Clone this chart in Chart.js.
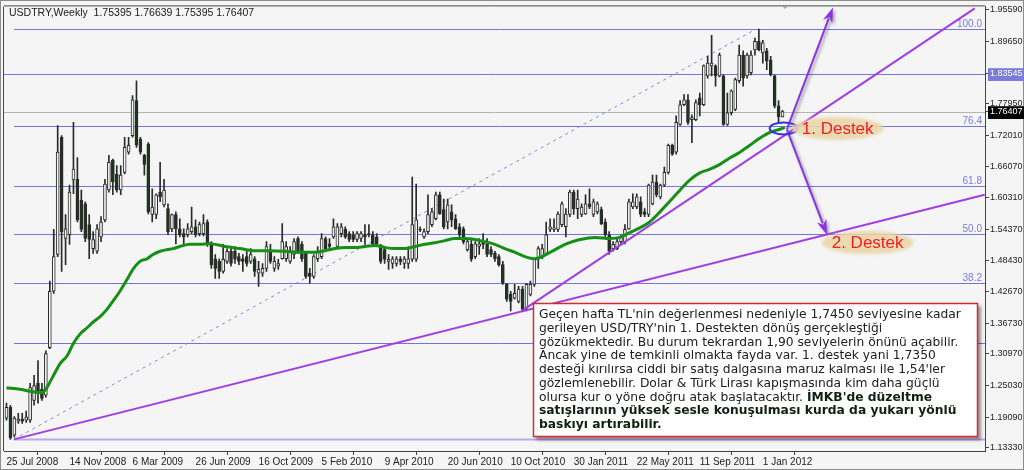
<!DOCTYPE html>
<html>
<head>
<meta charset="utf-8">
<title>USDTRY Weekly</title>
<script src="https://cdn.jsdelivr.net/npm/chart.js@4.4.1/dist/chart.umd.min.js"></script>
<style>
  html, body { margin: 0; padding: 0; background: #f5f5f5; }
  #wrap { width: 1024px; height: 470px; }
</style>
</head>
<body>
<div id="wrap"><canvas id="chart" width="1024" height="470"></canvas></div>
<script>
// weekly candles (bar index 0 = 25 Jul 2008)
const opens = [
  1.189, 1.209, 1.157, 1.183, 1.187, 1.185, 1.185, 1.222, 1.254, 1.243,
  1.232, 1.321, 1.427, 1.496, 1.716, 1.526, 1.533, 1.636, 1.637, 1.598,
  1.591, 1.552, 1.507, 1.502, 1.529, 1.561, 1.617, 1.673, 1.647, 1.617,
  1.650, 1.688, 1.719, 1.785, 1.712, 1.682, 1.703, 1.571, 1.571, 1.613,
  1.589, 1.582, 1.544, 1.571, 1.544, 1.535, 1.533, 1.539, 1.548, 1.535,
  1.535, 1.557, 1.515, 1.488, 1.483, 1.464, 1.483, 1.502, 1.502, 1.492,
  1.488, 1.492, 1.483, 1.488, 1.461, 1.461, 1.470, 1.505, 1.470, 1.474,
  1.488, 1.488, 1.483, 1.496, 1.526, 1.515, 1.498, 1.461, 1.455, 1.488,
  1.492, 1.526, 1.516, 1.529, 1.511, 1.535, 1.543, 1.535, 1.533, 1.524,
  1.526, 1.533, 1.535, 1.533, 1.529, 1.511, 1.505, 1.483, 1.479, 1.479,
  1.487, 1.479, 1.479, 1.487, 1.487, 1.543, 1.529, 1.539, 1.552, 1.563,
  1.608, 1.580, 1.557, 1.576, 1.563, 1.548, 1.544, 1.505, 1.515, 1.492,
  1.511, 1.520, 1.515, 1.505, 1.498, 1.492, 1.477, 1.440, 1.421, 1.414,
  1.408, 1.431, 1.395, 1.421, 1.440, 1.488, 1.492, 1.498, 1.543, 1.543,
  1.543, 1.552, 1.548, 1.571, 1.613, 1.582, 1.571, 1.572, 1.591, 1.571,
  1.576, 1.580, 1.557, 1.533, 1.507, 1.507, 1.520, 1.520, 1.544, 1.585,
  1.585, 1.595, 1.576, 1.571, 1.591, 1.632, 1.604, 1.626, 1.650, 1.701,
  1.688, 1.740, 1.777, 1.786, 1.749, 1.749, 1.790, 1.777, 1.831, 1.850,
  1.850, 1.831, 1.831, 1.740, 1.762, 1.768, 1.822, 1.870, 1.831, 1.837,
  1.880, 1.896, 1.874, 1.878, 1.861, 1.831, 1.775, 1.75395
];
const highs = [
  1.217, 1.213, 1.192, 1.198, 1.198, 1.202, 1.254, 1.269, 1.297, 1.254,
  1.315, 1.446, 1.543, 1.738, 1.719, 1.571, 1.626, 1.744, 1.678, 1.617,
  1.595, 1.571, 1.539, 1.552, 1.567, 1.637, 1.682, 1.675, 1.663, 1.663,
  1.716, 1.716, 1.794, 1.822, 1.716, 1.684, 1.706, 1.619, 1.610, 1.669,
  1.637, 1.591, 1.572, 1.576, 1.563, 1.544, 1.554, 1.585, 1.561, 1.557,
  1.571, 1.561, 1.520, 1.496, 1.488, 1.515, 1.507, 1.511, 1.511, 1.498,
  1.496, 1.502, 1.507, 1.492, 1.483, 1.479, 1.520, 1.515, 1.492, 1.487,
  1.554, 1.520, 1.511, 1.526, 1.529, 1.520, 1.502, 1.470, 1.496, 1.511,
  1.535, 1.529, 1.526, 1.563, 1.554, 1.554, 1.548, 1.539, 1.539, 1.539,
  1.539, 1.552, 1.552, 1.539, 1.535, 1.515, 1.511, 1.496, 1.492, 1.492,
  1.492, 1.492, 1.511, 1.641, 1.628, 1.548, 1.544, 1.608, 1.582, 1.613,
  1.613, 1.600, 1.600, 1.589, 1.571, 1.554, 1.548, 1.524, 1.524, 1.520,
  1.526, 1.535, 1.526, 1.511, 1.502, 1.496, 1.483, 1.442, 1.427, 1.440,
  1.436, 1.436, 1.442, 1.446, 1.488, 1.511, 1.515, 1.557, 1.563, 1.563,
  1.576, 1.595, 1.582, 1.617, 1.617, 1.617, 1.591, 1.608, 1.619, 1.600,
  1.595, 1.585, 1.563, 1.539, 1.520, 1.526, 1.533, 1.552, 1.600, 1.610,
  1.610, 1.604, 1.582, 1.628, 1.645, 1.645, 1.628, 1.660, 1.703, 1.703,
  1.756, 1.785, 1.796, 1.796, 1.758, 1.786, 1.799, 1.852, 1.868, 1.907,
  1.852, 1.874, 1.833, 1.799, 1.805, 1.827, 1.889, 1.878, 1.874, 1.878,
  1.902, 1.919, 1.898, 1.883, 1.868, 1.833, 1.785, 1.76639
];
const lows = [
  1.185, 1.149, 1.153, 1.179, 1.179, 1.181, 1.181, 1.213, 1.217, 1.222,
  1.228, 1.319, 1.423, 1.492, 1.464, 1.477, 1.515, 1.610, 1.557, 1.539,
  1.520, 1.488, 1.498, 1.498, 1.520, 1.557, 1.613, 1.608, 1.613, 1.608,
  1.647, 1.684, 1.716, 1.697, 1.684, 1.645, 1.572, 1.557, 1.563, 1.595,
  1.585, 1.533, 1.539, 1.516, 1.529, 1.515, 1.529, 1.535, 1.529, 1.531,
  1.531, 1.511, 1.470, 1.451, 1.451, 1.461, 1.479, 1.474, 1.479, 1.477,
  1.464, 1.474, 1.479, 1.455, 1.436, 1.455, 1.464, 1.479, 1.464, 1.468,
  1.487, 1.483, 1.479, 1.488, 1.498, 1.483, 1.451, 1.442, 1.451, 1.483,
  1.488, 1.502, 1.505, 1.526, 1.507, 1.529, 1.526, 1.520, 1.520, 1.520,
  1.520, 1.515, 1.529, 1.511, 1.511, 1.479, 1.479, 1.468, 1.470, 1.474,
  1.477, 1.470, 1.470, 1.483, 1.483, 1.539, 1.526, 1.535, 1.548, 1.561,
  1.571, 1.544, 1.544, 1.548, 1.543, 1.529, 1.516, 1.502, 1.483, 1.488,
  1.496, 1.507, 1.492, 1.492, 1.483, 1.474, 1.440, 1.408, 1.390, 1.412,
  1.405, 1.390, 1.390, 1.418, 1.436, 1.470, 1.488, 1.496, 1.539, 1.539,
  1.539, 1.548, 1.529, 1.567, 1.571, 1.563, 1.567, 1.571, 1.582, 1.567,
  1.572, 1.552, 1.529, 1.496, 1.502, 1.505, 1.516, 1.516, 1.543, 1.582,
  1.582, 1.567, 1.567, 1.567, 1.589, 1.604, 1.600, 1.623, 1.647, 1.682,
  1.684, 1.738, 1.775, 1.740, 1.706, 1.747, 1.756, 1.775, 1.827, 1.831,
  1.812, 1.829, 1.738, 1.738, 1.758, 1.766, 1.818, 1.812, 1.827, 1.833,
  1.870, 1.878, 1.855, 1.843, 1.831, 1.771, 1.744, 1.75395
];
const closes = [
  1.209, 1.152, 1.189, 1.187, 1.183, 1.191, 1.246, 1.250, 1.237, 1.226,
  1.310, 1.427, 1.492, 1.688, 1.539, 1.544, 1.613, 1.656, 1.561, 1.543,
  1.526, 1.524, 1.524, 1.544, 1.557, 1.628, 1.669, 1.632, 1.617, 1.645,
  1.697, 1.701, 1.786, 1.701, 1.688, 1.665, 1.576, 1.585, 1.608, 1.604,
  1.617, 1.539, 1.571, 1.544, 1.533, 1.529, 1.544, 1.548, 1.533, 1.552,
  1.554, 1.515, 1.477, 1.470, 1.464, 1.487, 1.502, 1.479, 1.487, 1.483,
  1.483, 1.479, 1.496, 1.464, 1.468, 1.470, 1.511, 1.483, 1.483, 1.479,
  1.520, 1.511, 1.502, 1.520, 1.502, 1.488, 1.455, 1.455, 1.492, 1.502,
  1.526, 1.507, 1.511, 1.548, 1.548, 1.548, 1.529, 1.524, 1.524, 1.535,
  1.535, 1.529, 1.533, 1.516, 1.516, 1.483, 1.487, 1.487, 1.488, 1.488,
  1.483, 1.488, 1.488, 1.552, 1.561, 1.542, 1.539, 1.571, 1.576, 1.608,
  1.572, 1.548, 1.589, 1.561, 1.544, 1.533, 1.520, 1.520, 1.487, 1.516,
  1.516, 1.515, 1.496, 1.496, 1.488, 1.477, 1.442, 1.412, 1.408, 1.423,
  1.431, 1.393, 1.440, 1.440, 1.487, 1.507, 1.507, 1.533, 1.548, 1.546,
  1.572, 1.591, 1.572, 1.613, 1.582, 1.600, 1.585, 1.591, 1.585, 1.595,
  1.591, 1.554, 1.533, 1.502, 1.515, 1.520, 1.529, 1.543, 1.595, 1.595,
  1.604, 1.571, 1.571, 1.626, 1.632, 1.608, 1.626, 1.650, 1.701, 1.684,
  1.744, 1.777, 1.786, 1.744, 1.753, 1.781, 1.777, 1.850, 1.855, 1.855,
  1.831, 1.870, 1.740, 1.762, 1.803, 1.824, 1.870, 1.827, 1.870, 1.870,
  1.896, 1.880, 1.893, 1.859, 1.833, 1.775, 1.754, 1.76407
];

// green moving average, sampled along the line
const maIdx = [
  0, 3.4, 8.5, 9.8, 11.0, 12.3, 13.6, 15.4, 16.9, 18.7,
  20.4, 22.0, 23.7, 25.5, 27.0, 28.8, 30.6, 32.1, 33.9, 35.7,
  37.2, 39.0, 40.7, 42.3, 44.0, 46.6, 49.1, 51.6, 55.5, 59.3,
  63.1, 66.9, 70.7, 74.5, 78.3, 80.8, 83.4, 85.9, 88.4, 91.0,
  93.5, 96.1, 98.6, 101.1, 103.7, 106.2, 108.8, 111.3, 113.8, 116.4,
  118.9, 121.4, 124.0, 126.5, 129.1, 131.6, 134.1, 138.0, 141.8, 145.6,
  149.4, 153.2, 155.7, 158.2, 160.8, 163.3, 165.9, 168.4, 171.0, 173.5,
  176.0, 178.6, 181.1, 183.6, 186.2, 188.7, 191.2, 193.8, 196.3, 197.6
];
const maVals = [
  1.246, 1.243, 1.237, 1.241, 1.256, 1.274, 1.291, 1.306, 1.328, 1.347,
  1.358, 1.369, 1.379, 1.393, 1.408, 1.427, 1.449, 1.468, 1.483, 1.488,
  1.496, 1.502, 1.505, 1.507, 1.511, 1.515, 1.515, 1.516, 1.511, 1.507,
  1.503, 1.503, 1.502, 1.500, 1.500, 1.503, 1.507, 1.509, 1.509, 1.511,
  1.513, 1.509, 1.507, 1.507, 1.511, 1.515, 1.518, 1.522, 1.526, 1.526,
  1.524, 1.520, 1.515, 1.507, 1.500, 1.492, 1.488, 1.500, 1.515, 1.524,
  1.528, 1.526, 1.528, 1.537, 1.546, 1.557, 1.576, 1.596, 1.617, 1.636,
  1.649, 1.656, 1.665, 1.677, 1.688, 1.701, 1.714, 1.725, 1.731, 1.734
];

const xTickIdx = [0, 16, 32, 48, 64, 80, 96, 112, 128, 144, 160, 176, 192];
const xTickLabels = ['25 Jul 2008', '14 Nov 2008', '6 Mar 2009', '26 Jun 2009', '16 Oct 2009',
  '5 Feb 2010', '9 Apr 2010', '20 Jun 2010', '10 Oct 2010', '30 Jan 2011', '22 May 2011',
  '11 Sep 2011', '1 Jan 2012'];
const yTickVals = [1.95590, 1.89650, 1.83545, 1.77950, 1.76407, 1.72010, 1.66070, 1.60310,
  1.54370, 1.48430, 1.42670, 1.36730, 1.30970, 1.25030, 1.19090, 1.13330];

// drawn objects, in (bar index, price)
const fibStart = [1.9, 1.149];
const fibEnd = [190.3, 1.919];
const fibLevels = [0, 23.6, 38.2, 50.0, 61.8, 76.4, 100.0];
const resistance = 1.83545;
const lastPrice = 1.76407;
const trendLow = [[1.9, 1.149], [248.3, 1.608]];
const trendHigh = [[131.1, 1.3917], [245.8, 1.9578]];
const arrowFrom = [198.1, 1.7306];
const arrowUpTo = [209.8, 1.9596];
const arrowDownTo = [208.3, 1.5332];
const ringAt = [197.3, 1.7325];
const support1 = [211.0, 1.7325];
const support2 = [218.6, 1.5183];

const noteLines = [
  [["Geçen hafta TL'nin değerlenmesi nedeniyle 1,7450 seviyesine kadar", false]],
  [["gerileyen USD/TRY'nin 1. Destekten dönüş gerçekleştiği", false]],
  [["gözükmektedir. Bu durum tekrardan 1,90 seviyelerin önünü açabilir.", false]],
  [["Ancak yine de temkinli olmakta fayda var. 1. destek yani 1,7350", false]],
  [["desteği kırılırsa ciddi bir satış dalgasına maruz kalması ile 1,54'ler", false]],
  [["gözlemlenebilir. Dolar & Türk Lirası kapışmasında kim daha güçlü", false]],
  [["olursa kur o yöne doğru atak başlatacaktır. ", false], ["İMKB'de düzeltme", true]],
  [["satışlarının yüksek sesle konuşulması kurda da yukarı yönlü", true]],
  [["baskıyı artırabilir.", true]]
];

const bars = opens.map((o, i) => i);
const bodyColors = bars.map(i => closes[i] >= opens[i] ? '#f4f4f4' : '#1f351f');

function drawArrow(ctx, x1, y1, x2, y2) {
  const ang = Math.atan2(y2 - y1, x2 - x1);
  const len = 15, half = 5;
  ctx.beginPath();
  ctx.moveTo(x1, y1);
  ctx.lineTo(x2 - Math.cos(ang) * len * 0.8, y2 - Math.sin(ang) * len * 0.8);
  ctx.stroke();
  ctx.beginPath();
  ctx.moveTo(x2, y2);
  ctx.lineTo(x2 - Math.cos(ang) * len + Math.sin(ang) * half, y2 - Math.sin(ang) * len - Math.cos(ang) * half);
  ctx.lineTo(x2 - Math.cos(ang) * len * 0.7, y2 - Math.sin(ang) * len * 0.7);
  ctx.lineTo(x2 - Math.cos(ang) * len - Math.sin(ang) * half, y2 - Math.sin(ang) * len + Math.cos(ang) * half);
  ctx.closePath();
  ctx.fill();
}

function destekLabel(ctx, x, y, text) {
  ctx.save();
  ctx.filter = 'blur(1.5px)';
  ctx.fillStyle = 'rgba(234, 214, 170, 0.9)';
  ctx.beginPath();
  ctx.ellipse(x, y, 46, 11.5, 0, 0, Math.PI * 2);
  ctx.fill();
  ctx.restore();
  ctx.fillStyle = '#f02020';
  ctx.font = '17px "Liberation Sans", Arial, sans-serif';
  ctx.textAlign = 'center';
  ctx.textBaseline = 'middle';
  ctx.fillText(text, x, y + 1);
}

const overlay = {
  id: 'overlay',
  beforeDraw(chart) {
    const ctx = chart.ctx;
    ctx.save();
    ctx.fillStyle = '#f5f5f5';
    ctx.fillRect(0, 0, chart.width, chart.height);
    ctx.strokeStyle = '#8c8c8c';
    ctx.lineWidth = 1;
    ctx.strokeRect(0.5, 0.5, chart.width - 1, chart.height - 1);
    ctx.strokeStyle = '#4a4a4a';
    ctx.beginPath();
    ctx.moveTo(chart.chartArea.left - 0.5, chart.chartArea.top);
    ctx.lineTo(chart.chartArea.left - 0.5, chart.chartArea.bottom);
    ctx.moveTo(chart.chartArea.left, chart.chartArea.top - 0.5);
    ctx.lineTo(chart.chartArea.right, chart.chartArea.top - 0.5);
    ctx.stroke();
    ctx.restore();
  },
  beforeDatasetsDraw(chart) {
    const ctx = chart.ctx, a = chart.chartArea;
    const X = v => chart.scales.x.getPixelForValue(v);
    const Y = v => chart.scales.y.getPixelForValue(v);
    ctx.save();
    ctx.beginPath();
    ctx.rect(a.left, a.top, a.right - a.left, a.bottom - a.top);
    ctx.clip();

    ctx.lineWidth = 1;
    ctx.strokeStyle = '#b4b4b4';
    let y = Math.round(Y(lastPrice)) + 0.5;
    ctx.beginPath(); ctx.moveTo(a.left, y); ctx.lineTo(a.right, y); ctx.stroke();

    ctx.strokeStyle = '#7474dc';
    y = Math.round(Y(resistance)) + 0.5;
    ctx.beginPath(); ctx.moveTo(a.left, y); ctx.lineTo(a.right, y); ctx.stroke();

    fibLevels.forEach(l => {
      const p = fibStart[1] + (fibEnd[1] - fibStart[1]) * l / 100;
      const yy = Math.round(Y(p)) + 0.5;
      ctx.strokeStyle = l === 0 ? '#bca8ee' : '#7474dc';
      ctx.lineWidth = l === 0 ? 2 : 1;
      ctx.beginPath(); ctx.moveTo(X(fibStart[0]), yy); ctx.lineTo(a.right, yy); ctx.stroke();
    });

    ctx.setLineDash([3, 4]);
    ctx.strokeStyle = '#8484e0';
    ctx.lineWidth = 1;
    ctx.beginPath();
    ctx.moveTo(X(fibStart[0]), Y(fibStart[1]));
    ctx.lineTo(X(fibEnd[0]), Y(fibEnd[1]));
    ctx.stroke();
    ctx.setLineDash([]);
    ctx.restore();
  },
  afterDatasetsDraw(chart) {
    const ctx = chart.ctx, a = chart.chartArea;
    const X = v => chart.scales.x.getPixelForValue(v);
    const Y = v => chart.scales.y.getPixelForValue(v);

    ctx.save();
    ctx.beginPath();
    ctx.rect(a.left, a.top, a.right - a.left, a.bottom - a.top);
    ctx.clip();

    // fibo labels
    ctx.font = '10px "Liberation Sans", Arial, sans-serif';
    ctx.fillStyle = '#7a7ae0';
    ctx.textAlign = 'right';
    ctx.textBaseline = 'alphabetic';
    fibLevels.filter(l => l > 30).forEach(l => {
      const p = fibStart[1] + (fibEnd[1] - fibStart[1]) * l / 100;
      ctx.fillText(l.toFixed(1), a.right - 3, Y(p) - 2);
    });

    // trend lines
    ctx.strokeStyle = '#a03ee2';
    ctx.lineWidth = 2;
    [trendLow, trendHigh].forEach(t => {
      ctx.beginPath();
      ctx.moveTo(X(t[0][0]), Y(t[0][1]));
      ctx.lineTo(X(t[1][0]), Y(t[1][1]));
      ctx.stroke();
    });

    // arrows
    ctx.save();
    ctx.shadowColor = 'rgba(60, 60, 60, 0.45)';
    ctx.shadowBlur = 3;
    ctx.shadowOffsetX = 2;
    ctx.shadowOffsetY = 2;
    ctx.strokeStyle = '#8d33e6';
    ctx.fillStyle = '#8d33e6';
    ctx.lineWidth = 2;
    drawArrow(ctx, X(arrowFrom[0]), Y(arrowFrom[1]), X(arrowUpTo[0]), Y(arrowUpTo[1]));
    drawArrow(ctx, X(arrowFrom[0]), Y(arrowFrom[1]), X(arrowDownTo[0]), Y(arrowDownTo[1]));
    ctx.restore();

    // ring round the touch point
    ctx.strokeStyle = '#3434e6';
    ctx.lineWidth = 2;
    ctx.beginPath();
    ctx.ellipse(X(ringAt[0]), Y(ringAt[1]), 14, 6, 0, 0, Math.PI * 2);
    ctx.stroke();

    destekLabel(ctx, X(support1[0]), Y(support1[1]), '1. Destek');
    destekLabel(ctx, X(support2[0]), Y(support2[1]), '2. Destek');

    // shift marker
    ctx.fillStyle = '#a8a8a8';
    ctx.beginPath();
    ctx.moveTo(779, 3); ctx.lineTo(791, 3); ctx.lineTo(785, 9); ctx.closePath();
    ctx.fill();
    ctx.restore();

    // comment box
    ctx.save();
    ctx.shadowColor = 'rgba(0, 0, 0, 0.4)';
    ctx.shadowBlur = 3;
    ctx.shadowOffsetX = 3;
    ctx.shadowOffsetY = 3;
    ctx.fillStyle = '#ffffff';
    ctx.fillRect(533, 303, 445, 134);
    ctx.restore();
    ctx.save();
    ctx.strokeStyle = '#d42a2a';
    ctx.lineWidth = 1.5;
    ctx.strokeRect(533.5, 303.5, 444, 133);
    ctx.textAlign = 'left';
    ctx.textBaseline = 'middle';
    noteLines.forEach((line, k) => {
      let x = 539;
      const y = 315 + k * 13.75;
      line.forEach(([txt, bold]) => {
        ctx.font = (bold ? 'bold ' : '') + '12.3px "DejaVu Sans", Verdana, sans-serif';
        ctx.fillStyle = bold ? '#102010' : '#202020';
        ctx.fillText(txt, x, y);
        x += ctx.measureText(txt).width;
      });
    });

    // header
    ctx.font = '10.5px "Liberation Sans", Arial, sans-serif';
    ctx.fillStyle = '#202020';
    ctx.fillText('USDTRY,Weekly  1.75395 1.76639 1.75395 1.76407', 9, 13);
    ctx.restore();
  }
};

const isTag = v => v === resistance || v === lastPrice;

new Chart(document.getElementById('chart'), {
  type: 'bar',
  data: {
    datasets: [
      {
        type: 'line',
        data: maIdx.map((x, k) => ({ x: x, y: maVals[k] })),
        borderColor: '#159015',
        borderWidth: 3,
        pointRadius: 0,
        cubicInterpolationMode: 'monotone',
        order: 1
      },
      {
        data: bars.map(i => ({ x: i, y: [lows[i], highs[i]] })),
        backgroundColor: '#2a2a2a',
        borderWidth: 0,
        barThickness: 1,
        grouped: false,
        order: 3
      },
      {
        data: bars.map(i => ({ x: i, y: [opens[i], closes[i]] })),
        backgroundColor: bodyColors,
        borderColor: '#2a2a2a',
        borderWidth: 1,
        borderSkipped: false,
        barThickness: 3,
        grouped: false,
        order: 2
      }
    ]
  },
  options: {
    responsive: false,
    animation: false,
    events: [],
    layout: { padding: { left: 4, top: 3, right: 0, bottom: 0 } },
    plugins: { legend: { display: false }, tooltip: { enabled: false } },
    scales: {
      x: {
        type: 'linear',
        offset: false,
        min: -0.63,
        max: 248.4,
        afterBuildTicks: s => { s.ticks = xTickIdx.map(v => ({ value: v })); },
        afterFit: s => { s.height = 19; },
        grid: { drawOnChartArea: false, tickLength: 4, color: '#444' },
        border: { color: '#444' },
        ticks: {
          autoSkip: false,
          maxRotation: 0,
          align: 'start',
          padding: 1,
          color: '#222',
          font: { family: '"Liberation Sans", Arial, sans-serif', size: 10 },
          callback: (v, i) => xTickLabels[i]
        }
      },
      y: {
        position: 'right',
        min: 1.1272,
        max: 1.9615,
        afterBuildTicks: s => { s.ticks = yTickVals.map(v => ({ value: v })); },
        afterFit: s => { s.width = 39; },
        grid: { drawOnChartArea: false, tickLength: 4, color: '#444' },
        border: { color: '#444' },
        ticks: {
          autoSkip: false,
          padding: 1,
          font: { family: '"Liberation Sans", Arial, sans-serif', size: 9 },
          color: c => isTag(c.tick && c.tick.value) ? '#ffffff' : '#222',
          showLabelBackdrop: true,
          backdropPadding: { left: 2, right: 2, top: 0, bottom: 2 },
          backdropColor: c => {
            const v = c.tick && c.tick.value;
            if (v === resistance) return '#7c7cd8';
            if (v === lastPrice) return '#000000';
            return 'rgba(0,0,0,0)';
          },
          callback: v => v.toFixed(5)
        }
      }
    }
  },
  plugins: [overlay]
});
</script>
</body>
</html>
